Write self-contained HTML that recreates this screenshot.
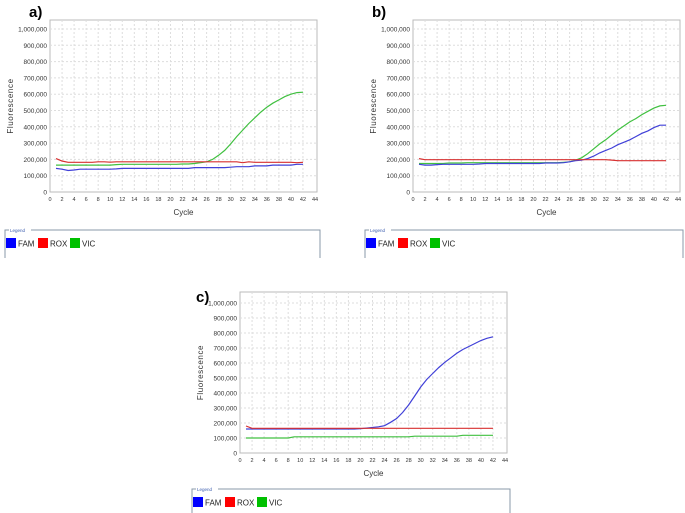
<!DOCTYPE html>
<html><head><meta charset="utf-8"><style>
html,body{margin:0;padding:0;background:#fff;}
svg{display:block;font-family:"Liberation Sans",sans-serif;}
</style></head><body>
<svg id="s" width="685" height="513" viewBox="0 0 685 513"></svg>
<script>
const cycles=[1,2,3,4,5,6,7,8,9,10,11,12,13,14,15,16,17,18,19,20,21,22,23,24,25,26,27,28,29,30,31,32,33,34,35,36,37,38,39,40,41,42];
const xTicks=[0,2,4,6,8,10,12,14,16,18,20,22,24,26,28,30,32,34,36,38,40,42,44];
const yTicks=[0,100000,200000,300000,400000,500000,600000,700000,800000,900000,1000000];
const yTickLabels=["0","100,000","200,000","300,000","400,000","500,000","600,000","700,000","800,000","900,000","1,000,000"];
// values in thousands
const aFAM=[145,140,132,135,140,140,140,140,140,140,142,145,145,145,145,145,145,145,145,145,145,145,145,150,150,150,150,150,150,152,155,155,155,160,160,160,165,165,165,165,170,170];
const aROX=[205,190,182,182,182,182,182,185,185,183,185,185,185,185,185,185,185,185,185,185,185,185,185,185,185,185,185,185,185,185,185,180,185,182,182,182,182,182,182,182,180,182];
const aVIC=[165,165,165,165,165,165,165,165,165,165,168,170,170,170,170,170,170,170,170,170,170,172,172,175,180,185,200,225,255,295,340,380,420,455,490,520,545,565,585,600,610,612];
const bFAM=[170,165,165,168,170,170,170,170,170,170,172,175,175,175,175,175,175,175,175,175,175,178,178,178,180,185,192,195,205,220,240,255,270,290,305,320,340,360,375,395,410,410];
const bROX=[205,198,198,198,198,198,198,198,198,198,198,198,198,198,198,198,198,198,198,198,198,198,198,198,198,198,198,198,198,198,198,198,196,192,192,192,192,192,192,192,192,192];
const bVIC=[175,175,175,175,175,178,178,178,180,180,180,180,180,180,180,180,180,180,180,180,180,180,180,180,182,185,195,210,235,265,295,320,350,380,405,430,450,475,495,515,528,532];
const cFAM=[160,160,160,160,160,160,160,160,160,160,160,160,160,160,160,160,160,160,160,162,166,170,175,182,205,230,270,320,380,440,490,530,570,605,635,665,690,710,730,750,765,775];
const cROX=[180,165,165,165,165,165,165,165,165,165,165,165,165,165,165,165,165,165,165,165,165,165,165,165,165,165,165,165,165,165,165,165,165,165,165,165,165,165,165,165,165,165];
const cVIC=[100,100,100,100,100,100,100,100,108,108,108,108,108,108,108,108,108,108,108,108,108,108,108,108,108,108,108,108,112,112,112,112,112,112,112,112,118,118,118,118,118,118];

const NS="http://www.w3.org/2000/svg";
const svg=document.getElementById('s');
function mk(tag,attrs,parent){const e=document.createElementNS(NS,tag);for(const k in attrs)e.setAttribute(k,attrs[k]);(parent||svg).appendChild(e);return e;}
const colors={FAM:"#4040d8",ROX:"#d83030",VIC:"#40c040"};
const legendColors={FAM:"#0000ff",ROX:"#ff0000",VIC:"#00c000"};

function panel(p){
  const g=mk('g',{});
  
  
  const xs=c=>p.x0+(c/44)*(p.x44-p.x0);
  const ys=v=>p.y0-(v/1000000)*(p.y0-p.y1);
  const box=mk('rect',{x:p.x0,y:p.top,width:p.right-p.x0,height:p.y0-p.top,fill:'#fff',stroke:'#bbb','stroke-width':1},g);
  
  
  xTicks.forEach(t=>{
    const x=xs(t);
    if(t>0&&t<44){const gl=mk('line',{x1:x,x2:x,y1:p.top,y2:p.y0,stroke:'#ddd','stroke-dasharray':'2,2'},g);
    }
    const tx=mk('text',{x:x,y:p.y0+9,'font-size':5.5,'text-anchor':'middle',fill:'#333'},g);
    tx.textContent=t;
    
  });
  yTicks.forEach((t,i)=>{
    const y=ys(t);
    if(t>0){const gl=mk('line',{x1:p.x0,x2:p.right,y1:y,y2:y,stroke:'#ddd','stroke-dasharray':'2,2'},g);
    }
    const tx=mk('text',{x:p.x0-3,y:y+2.5,'font-size':6.5,'text-anchor':'end',fill:'#333'},g);
    tx.textContent=yTickLabels[i];
    
  });
  const lab=mk('text',{x:p.lx,y:p.ly,'font-size':15,'font-weight':'bold',fill:'#000'},g);
  lab.textContent=p.id+')';
  
  
  const xt=mk('text',{x:(p.x0+p.right)/2,y:p.y0+23,'font-size':8,'text-anchor':'middle',fill:'#333'},g);
  xt.textContent='Cycle';
  
  const yc=(p.top+p.y0)/2;
  const yt=mk('text',{x:p.x0-37,y:yc,'font-size':8,'text-anchor':'middle',fill:'#333','letter-spacing':'0.6',transform:`rotate(-90 ${p.x0-37} ${yc})`},g);
  yt.textContent='Fluorescence';
  
  ['VIC','FAM','ROX'].forEach(n=>{
    const d=p.data[n];
    const pts=d.map((v,i)=>xs(cycles[i]).toFixed(1)+','+ys(v*1000).toFixed(1)).join(' ');
    const pl=mk('polyline',{points:pts,fill:'none',stroke:colors[n],'stroke-width':1.2},g);
    
    
  });
  const lg=mk('g',{},g);
  
  
  mk('path',{d:`M${p.gl} ${p.gb} V${p.gt} H${p.gr} V${p.gb}`,fill:'none',stroke:'#8899aa','stroke-width':1},lg);
  mk('rect',{x:p.gl+4,y:p.gt-3,width:22,height:6,fill:'#fff'},lg);
  const lt=mk('text',{x:p.gl+5,y:p.gt+2,'font-size':4.5,fill:'#4060b0'},lg);
  lt.textContent='Legend';
  
  let lx=p.gl+1;
  ['FAM','ROX','VIC'].forEach(n=>{
    const e=mk('g',{},lg);
    
    
    mk('rect',{x:lx,y:p.gt+8,width:10,height:10,fill:legendColors[n]},e);
    const t=mk('text',{x:lx+12,y:p.gt+16.5,'font-size':8,fill:'#222'},e);
    t.textContent=n;
    lx+=32;
  });
}
panel({id:'a',x0:50,x44:315,y0:192,y1:29,top:20,right:317,lx:29,ly:17,gl:5,gt:230,gr:320,gb:258,data:{FAM:aFAM,ROX:aROX,VIC:aVIC}});
panel({id:'b',x0:413,x44:678,y0:192,y1:29,top:20,right:680,lx:372,ly:17,gl:365,gt:230,gr:683,gb:258,data:{FAM:bFAM,ROX:bROX,VIC:bVIC}});
panel({id:'c',x0:240,x44:505,y0:453,y1:303,top:292,right:507,lx:196,ly:302,gl:192,gt:489,gr:510,gb:520,data:{FAM:cFAM,ROX:cROX,VIC:cVIC}});
</script>
</body></html>
